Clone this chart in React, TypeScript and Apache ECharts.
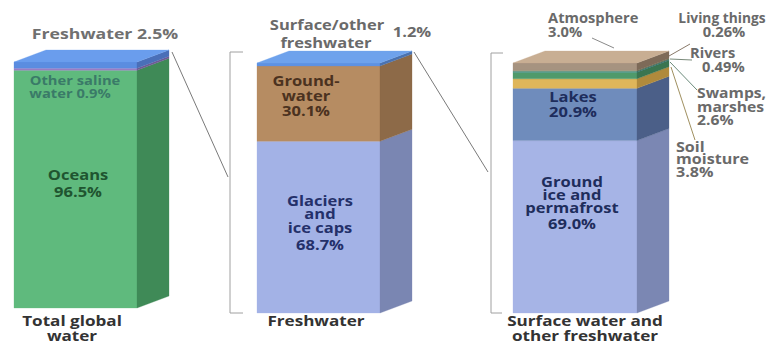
import React, { useEffect, useRef } from "react";
import * as echarts from "echarts";

// ---- data ----
const totalNames = ["Oceans", "Other saline water", "Freshwater"];
const totalValues = [96.5, 0.9, 2.5];

const freshNames = ["Glaciers and ice caps", "Groundwater", "Surface/other freshwater"];
const freshValues = [68.7, 30.1, 1.2];

const surfaceNames = [
  "Ground ice and permafrost",
  "Lakes",
  "Soil moisture",
  "Swamps, marshes",
  "Rivers",
  "Living things",
  "Atmosphere",
];
const surfaceValues = [69.0, 20.9, 3.8, 2.6, 0.49, 0.26, 3.0];

const barTitles = [
  ["Total global", "water"],
  ["Freshwater"],
  ["Surface water and", "other freshwater"],
];

// ---- styles ----
const FONT = '"Open Sans", "Liberation Sans", sans-serif';
const frontColors = [
  ["#5fba7d", "#9a7cc4", "#5b8de0"],
  ["#a3b2e6", "#b68c62", "#5e92e2"],
  ["#a6b4e6", "#6f8cbc", "#dfb65a", "#4f9a6b", "#3f8f90", "#7c8f60", "#a69380"],
];
const sideColors = [
  ["#3f8a57", "#6e5a96", "#4a6fb8"],
  ["#7a86b2", "#8d6a48", "#4a72b0"],
  ["#7b87b3", "#4b5f88", "#b08a3c", "#3a7550", "#2f6d6e", "#5a6a45", "#7d6a58"],
];
const topColors = ["#6a9ded", "#6ea2ec", "#c8ae93"];
const grids = [
  { left: 14, top: 62, width: 123, height: 246 },
  { left: 257, top: 63, width: 123, height: 250 },
  { left: 513, top: 63, width: 124, height: 250 },
];
const DX = 32;
const DY = -12;

function stackData(values: number[]) {
  let acc = 0;
  return values.map((v) => {
    const s = acc;
    acc += v;
    return [0, s, acc];
  });
}

function makeRender(front: string[], side: string[], top: string, n: number) {
  return (params: any, api: any) => {
    const i = params.dataIndex;
    const p0 = api.coord([0, api.value(1)]);
    const p1 = api.coord([0, api.value(2)]);
    const w = api.size([1, 0])[0];
    const xl = p0[0] - w / 2;
    const xr = p0[0] + w / 2;
    const yb = p0[1];
    const yt = p1[1];
    const children: any[] = [
      {
        type: "polygon",
        shape: { points: [[xl, yb], [xr, yb], [xr, yt], [xl, yt]] },
        style: { fill: front[i], stroke: front[i], lineWidth: 0.3 },
      },
      {
        type: "polygon",
        shape: { points: [[xr, yb], [xr + DX, yb + DY], [xr + DX, yt + DY], [xr, yt]] },
        style: { fill: side[i], stroke: side[i], lineWidth: 0.3 },
      },
    ];
    if (i === n - 1) {
      children.push({
        type: "polygon",
        shape: { points: [[xl, yt], [xr, yt], [xr + DX, yt + DY], [xl + DX, yt + DY]] },
        style: { fill: top, stroke: top, lineWidth: 0.3 },
      });
    }
    return { type: "group", children };
  };
}

function txt(text: string, x: number, y: number, fill: string, size: number, align = "center", sx = 1.18) {
  return {
    type: "text",
    x,
    y,
    z: 100,
    scaleX: sx,
    silent: true,
    style: {
      text,
      fill,
      fontSize: size,
      fontWeight: "bold",
      fontFamily: FONT,
      align,
      verticalAlign: "middle",
    },
  };
}

function ln(points: number[][], color = "#8a8a8a", width = 1) {
  return {
    type: "polyline",
    z: 100,
    silent: true,
    shape: { points },
    style: { stroke: color, lineWidth: width, fill: "none" },
  };
}

export default function App() {
  const ref = useRef<HTMLDivElement>(null);
  useEffect(() => {
    if (!ref.current) return;
    const chart = echarts.init(ref.current, undefined, { renderer: "svg" });
    const allValues = [totalValues, freshValues, surfaceValues];
    const allNames = [totalNames, freshNames, surfaceNames];

    const grey = "#6a6a6a";
    const dark = "#333333";
    const graphics: any[] = [
      // connectors and brackets
      ln([[172, 52], [228, 177]], "#7a7a7a"),
      ln([[243, 52], [230, 52], [230, 313], [243, 313]], "#a0a0a0"),
      ln([[414, 52], [488, 172]], "#7a7a7a"),
      ln([[503, 53], [491, 53], [491, 313], [502, 313]], "#a0a0a0"),
      // leader lines bar 3
      ln([[592, 38], [614, 48]], "#8a8a8a"),
      ln([[669, 56], [690, 44]], "#8a7a6a"),
      ln([[670, 59], [692, 60]], "#7a8a7a"),
      ln([[670, 62], [697, 90]], "#6a8a7a"),
      ln([[671, 67], [695, 140]], "#a09060"),
      // bar 1 labels
      txt("Freshwater 2.5%", 105, 33, "#707070", 15),
      txt("Other saline", 75, 80, "#3a7a68", 12.5),
      txt("water 0.9%", 70, 93, "#3a7a68", 12.5),
      txt("Oceans", 78, 175, "#1f5530", 14),
      txt("96.5%", 78, 192, "#1f5530", 14),
      // bar 2 labels
      txt("Surface/other", 327, 25, grey, 14),
      txt("freshwater", 326, 43, grey, 14),
      txt("1.2%", 412, 32, grey, 14),
      txt("Ground-", 306, 81, "#4b3220", 14),
      txt("water", 306, 96, "#4b3220", 14),
      txt("30.1%", 306, 111, "#4b3220", 14),
      txt("Glaciers", 320, 201, "#24306a", 14),
      txt("and", 320, 214, "#24306a", 14),
      txt("ice caps", 320, 228, "#24306a", 14),
      txt("68.7%", 320, 245, "#24306a", 14),
      // bar 3 labels
      txt("Atmosphere", 548, 18, grey, 14, "left", 1.05),
      txt("3.0%", 548, 32, grey, 14, "left", 1.05),
      txt("Living things", 722, 18, grey, 13.5, "center", 1.02),
      txt("0.26%", 724, 32, grey, 14, "center", 1.05),
      txt("Rivers", 690, 53, grey, 14, "left", 1.05),
      txt("0.49%", 702, 67, grey, 14, "left", 1.05),
      txt("Swamps,", 697, 92, grey, 14, "left", 1.12),
      txt("marshes", 697, 106, grey, 14, "left", 1.12),
      txt("2.6%", 697, 119, grey, 14, "left", 1.12),
      txt("Soil", 676, 146, grey, 14, "left", 1.15),
      txt("moisture", 676, 158, grey, 14, "left", 1.15),
      txt("3.8%", 676, 171, grey, 14, "left", 1.15),
      txt("Lakes", 573, 97, "#1e2d5c", 14),
      txt("20.9%", 573, 112, "#1e2d5c", 14),
      txt("Ground", 572, 182, "#1e2d5c", 14),
      txt("ice and", 572, 195, "#1e2d5c", 14),
      txt("permafrost", 572, 208, "#1e2d5c", 14),
      txt("69.0%", 572, 224, "#1e2d5c", 14),
    ];
    // bar titles
    const titleX = [72, 316, 585];
    barTitles.forEach((lines, b) => {
      lines.forEach((l, k) => graphics.push(txt(l, titleX[b], 321 + k * 14.5, dark, 14.5)));
    });

    chart.setOption({
      animation: false,
      backgroundColor: "#ffffff",
      grid: grids.map((g) => ({ ...g })),
      xAxis: grids.map((_, i) => ({
        type: "category",
        gridIndex: i,
        data: [barTitles[i].join(" ")],
        show: false,
      })),
      yAxis: grids.map((_, i) => ({
        type: "value",
        gridIndex: i,
        min: 0,
        max: allValues[i].reduce((a, b) => a + b, 0),
        show: false,
      })),
      series: allValues.map((vals, i) => ({
        type: "custom",
        xAxisIndex: i,
        yAxisIndex: i,
        renderItem: makeRender(frontColors[i], sideColors[i], topColors[i], vals.length),
        data: stackData(vals).map((d, k) => ({ name: allNames[i][k], value: d })),
        encode: { x: 0, y: [1, 2] },
        silent: true,
      })),
      graphic: graphics,
    });
    return () => chart.dispose();
  }, []);
  return (
    <div
      ref={ref}
      style={{ position: "fixed", left: 0, top: 0, width: 769, height: 345, background: "#fff" }}
    />
  );
}
